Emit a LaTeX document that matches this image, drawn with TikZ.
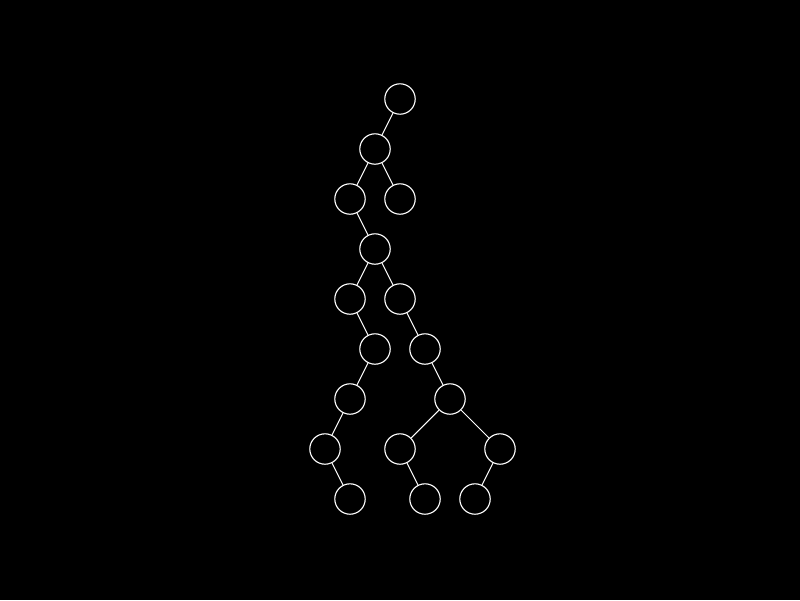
\documentclass[tikz,border=0pt]{standalone}
\begin{document}
\begin{tikzpicture}[x=0.025cm,y=-0.025cm,
  tnode/.style={circle,draw=white,line width=0.8pt,minimum size=0.76cm,inner sep=0pt},
  edge/.style={draw=white,line width=0.75pt}]
\fill[black] (0,0) rectangle (800,600);
\useasboundingbox (0,0) rectangle (800,600);
\node[tnode] (a) at (400,99) {};
\node[tnode] (b) at (375,149) {};
\node[tnode] (c) at (350,199) {};
\node[tnode] (d) at (400,199) {};
\node[tnode] (e) at (375,249) {};
\node[tnode] (f) at (350,299) {};
\node[tnode] (g) at (400,299) {};
\node[tnode] (h) at (375,349) {};
\node[tnode] (i) at (425,349) {};
\node[tnode] (j) at (350,399) {};
\node[tnode] (k) at (450,399) {};
\node[tnode] (l) at (325,449) {};
\node[tnode] (m) at (400,449) {};
\node[tnode] (n) at (500,449) {};
\node[tnode] (o) at (350,499) {};
\node[tnode] (p) at (425,499) {};
\node[tnode] (q) at (475,499) {};
\foreach \u/\v in {a/b,b/c,b/d,c/e,e/f,e/g,f/h,g/i,h/j,i/k,j/l,k/m,k/n,l/o,m/p,n/q}
  \draw[edge] (\u) -- (\v);
\end{tikzpicture}
\end{document}
